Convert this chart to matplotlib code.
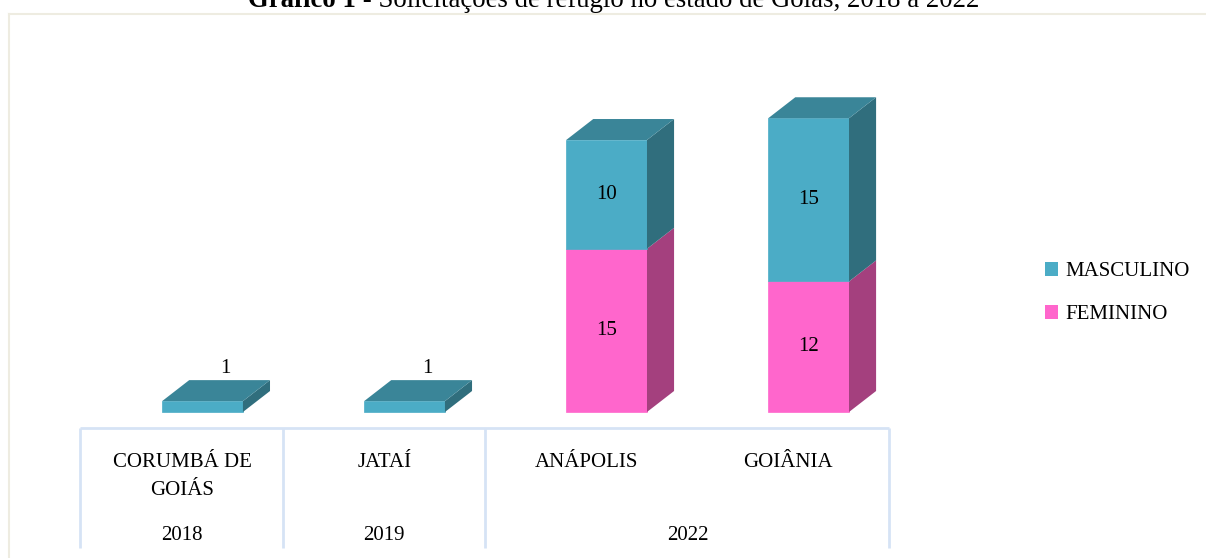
import matplotlib
matplotlib.use("Agg")
import matplotlib.pyplot as plt
from matplotlib.patches import Patch
from matplotlib.lines import Line2D

# data
cidades = ["CORUMBÁ DE\nGOIÁS", "JATAÍ", "ANÁPOLIS", "GOIÂNIA"]
anos = ["2018", "2019", "2022"]
anos_span = [(0, 0), (1, 1), (2, 3)]   # categories covered by each year cell
feminino = [0, 0, 15, 12]
masculino = [1, 1, 10, 15]

cor_masc = ("#4BACC6", "#3A8598", "#306E7D")   # front, top, side
cor_fem = ("#FF66CC", "#C54F9C", "#A4407E")

FONT = "Liberation Serif"
FS = 15

fig = plt.figure(figsize=(12.06, 5.58), dpi=100)
ax = fig.add_axes([0, 0, 1, 1])
ax.set_xlim(-1.0025, 4.967)
ax.set_ylim(-13.42, 37.87)
ax.axis("off")

w = 0.4       # bar width (category units)
dx = 0.134    # 3d depth, x
dy = 1.93     # 3d depth, y

def caixa(x, y0, y1, cores, topo):
    front, top, side = cores
    ax.bar(x, y1 - y0, bottom=y0, width=w, color=front, edgecolor=front, lw=0.5, zorder=3)
    xr = x + w / 2
    ax.fill([xr, xr + dx, xr + dx, xr], [y0, y0 + dy, y1 + dy, y1], color=side, lw=0, zorder=3)
    if topo:
        xl = x - w / 2
        ax.fill([xl, xr, xr + dx, xl + dx], [y1, y1, y1 + dy, y1 + dy], color=top, lw=0, zorder=3)

for i in range(len(cidades)):
    f, m = feminino[i], masculino[i]
    if f > 0:
        caixa(i, 0, f, cor_fem, m == 0)
    if m > 0:
        caixa(i, f, f + m, cor_masc, True)
    # labels
    if f + m <= 2:
        ax.text(i + 0.115, f + m + dy + 1.05, str(m), ha="center", va="center",
                fontsize=FS, family=FONT, zorder=4)
    else:
        if f > 0:
            ax.text(i, f / 2, str(f), ha="center", va="center", fontsize=FS, family=FONT, zorder=4)
        ax.text(i, f + m / 2, str(m), ha="center", va="center", fontsize=FS, family=FONT, zorder=4)

# category table below the bars
tcol = "#D6E3F5"
ytab, ybot = -1.47, -12.5
ax.plot([-0.606, 3.40], [ytab, ytab], color=tcol, lw=2, solid_capstyle="butt")
for xb in [-0.606, 0.40, 1.40, 3.40]:
    ax.plot([xb, xb], [ytab, ybot], color=tcol, lw=2, solid_capstyle="butt")

for i, c in enumerate(cidades):
    for k, linha in enumerate(c.split("\n")):
        ax.text(i - 0.1, -5.03 - 2.57 * k, linha, ha="center", va="baseline",
                fontsize=FS, family=FONT)
for a, (s, e) in zip(anos, anos_span):
    ax.text((s + e) / 2 - 0.1, -11.76, a, ha="center", va="baseline", fontsize=FS, family=FONT)

# legend
handles = [Patch(facecolor=cor_masc[0], edgecolor="none", label="MASCULINO"),
           Patch(facecolor=cor_fem[0], edgecolor="none", label="FEMININO")]
fig.legend(handles=handles, loc="center left", bbox_to_anchor=(1026 / 1206, 1 - 293 / 558),
           frameon=False, prop={"family": FONT, "size": FS}, handlelength=0.65,
           handleheight=0.65, handletextpad=0.35, labelspacing=1.12)

# outer chart frame
fcol = "#EEECE1"
fig.add_artist(Line2D([8.5 / 1206, 1], [1 - 13.5 / 558] * 2, color=fcol, lw=1.5))
fig.add_artist(Line2D([8.5 / 1206] * 2, [0, 1 - 13.5 / 558], color=fcol, lw=1.5))

# title (partly cut at the top, as in the source)
ty = 1 - 7 / 558
t1 = fig.text(248 / 1206, ty, "Gráfico 1", family="Liberation Serif", weight="bold",
              fontsize=19.3, va="baseline")
fig.canvas.draw()
bb = t1.get_window_extent()
fig.text(bb.x1 / 1206, ty, " - Solicitações de refúgio no estado de Goiás, 2018 a 2022",
         family="Liberation Serif", fontsize=19.3, va="baseline")

fig.savefig("out.png", dpi=100)
